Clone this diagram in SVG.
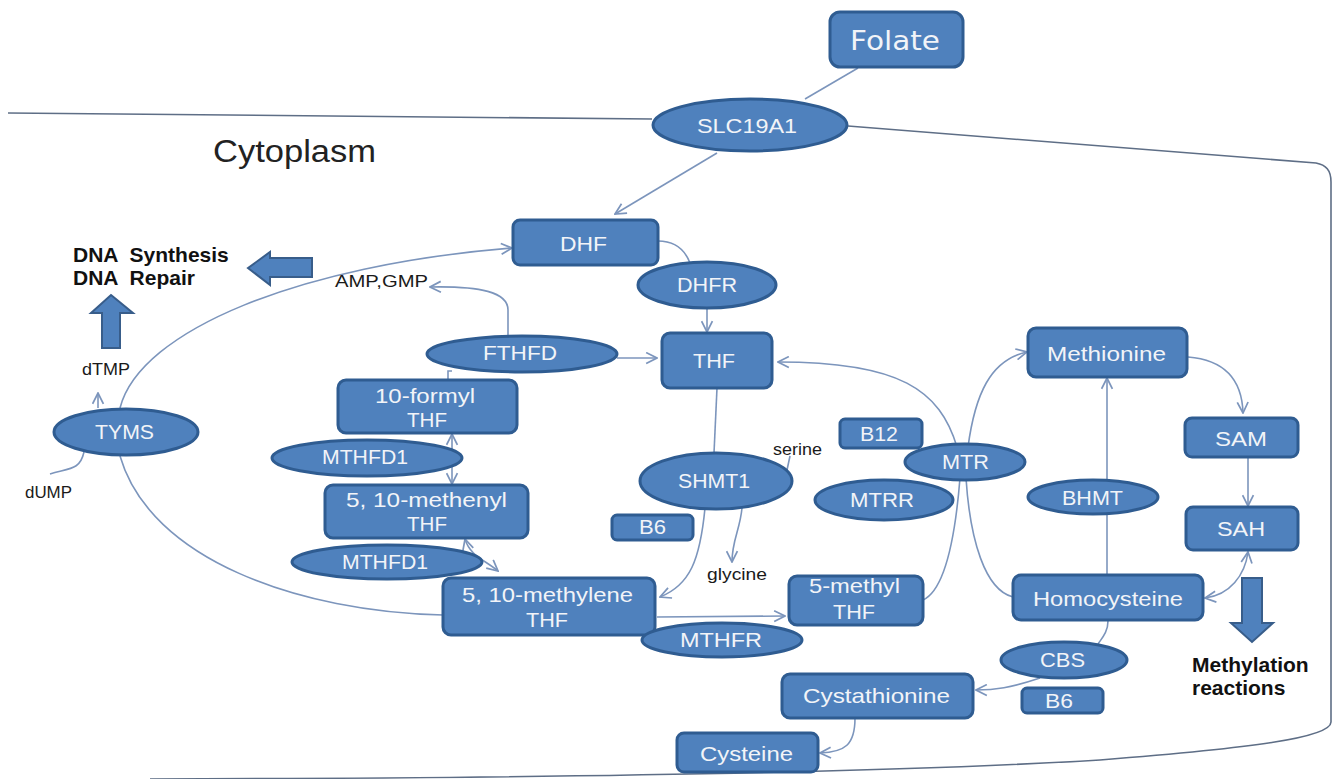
<svg xmlns="http://www.w3.org/2000/svg" width="1338" height="779" viewBox="0 0 1338 779">
<defs>
<style>
.n{fill:#4F81BD;stroke:#2F5C91;stroke-width:3}
.b{fill:#4F81BD;stroke:#385D8A;stroke-width:2}
.t{font-family:"Liberation Sans",Arial,sans-serif;font-size:21px;fill:#F2F4F8}
.s{font-family:"Liberation Sans",Arial,sans-serif;font-size:17px;fill:#1a1a1a}
.k{font-family:"Liberation Sans",Arial,sans-serif;font-size:21px;font-weight:bold;fill:#111}
.c{fill:none;stroke:#7C95BC;stroke-width:1.6}
.m{fill:none;stroke:#5E6E86;stroke-width:1.6}
</style>
<marker id="a" viewBox="0 0 12 12" refX="11" refY="6" markerWidth="13" markerHeight="13" markerUnits="userSpaceOnUse" orient="auto-start-reverse">
<path d="M1,1 L11,6 L1,11" fill="none" stroke="#7C95BC" stroke-width="1.6"/>
</marker>
</defs>
<rect width="1338" height="779" fill="#fff"/>

<g id="membrane">
<path class="m" d="M8,113 L652,119"/>
<path class="m" d="M848,126 L1316,163 C1326,165 1331,170 1331,182 L1331,722 C1331,738 1250,748 1100,760 C900,772 600,778 150,779"/>
</g>

<g id="connectors">
<path class="c" d="M858,68 L805,99"/>
<path class="c" d="M717,153 L615,214" marker-end="url(#a)"/>
<path class="c" d="M658,241 C675,241 685,250 690,263"/>
<path class="c" d="M707,308 L707,332" marker-end="url(#a)"/>
<path class="c" d="M617,358 L657,358" marker-end="url(#a)"/>
<path class="c" d="M508,337 L508,310 C508,292 480,286 430,287" marker-end="url(#a)"/>
<path class="c" d="M448,380 L448,371 L452,371"/>
<path class="c" d="M452,434 L452,484" marker-start="url(#a)" marker-end="url(#a)"/>
<path class="c" d="M465,539 C470,556 485,560 498,571" marker-start="url(#a)" marker-end="url(#a)"/>
<path class="c" d="M120,408 C140,330 300,265 512,248" marker-end="url(#a)"/>
<path class="c" d="M120,456 C150,560 300,612 443,615"/>
<path class="c" d="M98,408 L98,393" marker-end="url(#a)"/>
<path class="c" d="M50,474 C70,468 80,470 84,452"/>
<path class="c" d="M717,388 L714,453"/>
<path class="c" d="M790,456 L787,470"/>
<path class="c" d="M705,508 C700,560 690,585 660,597" marker-end="url(#a)"/>
<path class="c" d="M742,508 C740,530 732,540 732,562" marker-end="url(#a)"/>
<path class="c" d="M657,617 L785,616" marker-end="url(#a)"/>
<path class="c" d="M957,447 C940,390 900,362 778,362" marker-end="url(#a)"/>
<path class="c" d="M968,447 C975,395 990,360 1027,352" marker-end="url(#a)"/>
<path class="c" d="M960,478 C955,540 945,590 923,600"/>
<path class="c" d="M966,478 C970,540 985,590 1013,597"/>
<path class="c" d="M1107,575 L1107,378" marker-end="url(#a)"/>
<path class="c" d="M1188,357 C1225,360 1242,380 1243,413" marker-end="url(#a)"/>
<path class="c" d="M1248,457 L1248,506" marker-end="url(#a)"/>
<path class="c" d="M1248,552 C1245,575 1230,595 1205,598" marker-start="url(#a)" marker-end="url(#a)"/>
<path class="c" d="M1108,621 C1108,632 1102,638 1098,644"/>
<path class="c" d="M1040,678 C1010,688 995,690 976,690" marker-end="url(#a)"/>
<path class="c" d="M855,718 C855,745 845,752 820,753" marker-end="url(#a)"/>
</g>

<g id="block-arrows">
<polygon class="b" points="248,268 270,252 270,258 312,258 312,277 270,277 270,285"/>
<polygon class="b" points="111,295 133,313 120,313 120,348 102,348 102,313 91,313"/>
<polygon class="b" points="1242,578 1262,578 1262,623 1273,623 1252,642 1231,623 1242,623"/>
</g>

<g id="labels">
<text x="213" y="162" font-family="Liberation Sans, Arial, sans-serif" font-size="31" fill="#222" textLength="163" lengthAdjust="spacingAndGlyphs">Cytoplasm</text>
<text class="k" x="73" y="262">DNA <tspan dx="6">Synthesis</tspan></text>
<text class="k" x="73" y="285">DNA <tspan dx="6">Repair</tspan></text>
<text class="k" x="1192" y="672">Methylation</text>
<text class="k" x="1192" y="695">reactions</text>
<text class="s" x="335" y="287" textLength="93" lengthAdjust="spacingAndGlyphs">AMP,GMP</text>
<text class="s" x="82" y="375" textLength="48" lengthAdjust="spacingAndGlyphs">dTMP</text>
<text class="s" x="25" y="498" textLength="47" lengthAdjust="spacingAndGlyphs">dUMP</text>
<text class="s" x="773" y="455" textLength="49" lengthAdjust="spacingAndGlyphs">serine</text>
<text class="s" x="707" y="580" textLength="60" lengthAdjust="spacingAndGlyphs">glycine</text>
</g>

<g id="folate"><rect class="n" x="830" y="12" width="133" height="55" rx="10"/><text x="850" y="50" font-family="DejaVu Sans, Verdana, sans-serif" font-size="27" fill="#F2F4F8" textLength="90" lengthAdjust="spacingAndGlyphs">Folate</text></g>
<g id="slc19a1"><ellipse class="n" cx="750" cy="125" rx="97" ry="26"/><text class="t" x="697" y="133" textLength="100" lengthAdjust="spacingAndGlyphs">SLC19A1</text></g>
<g id="dhf"><rect class="n" x="513" y="220" width="145" height="45" rx="7"/><text class="t" x="560" y="251" textLength="47" lengthAdjust="spacingAndGlyphs">DHF</text></g>
<g id="dhfr"><ellipse class="n" cx="707" cy="285" rx="69" ry="23"/><text class="t" x="677" y="292" textLength="60" lengthAdjust="spacingAndGlyphs">DHFR</text></g>
<g id="thf"><rect class="n" x="662" y="333" width="110" height="55" rx="8"/><text class="t" x="693" y="368" textLength="42" lengthAdjust="spacingAndGlyphs">THF</text></g>
<g id="fthfd"><ellipse class="n" cx="522" cy="354" rx="95" ry="18"/><text class="t" x="483" y="360" textLength="74" lengthAdjust="spacingAndGlyphs">FTHFD</text></g>
<g id="formyl-thf"><rect class="n" x="338" y="380" width="179" height="53" rx="8"/><text class="t" x="375" y="403" textLength="100" lengthAdjust="spacingAndGlyphs">10-formyl</text><text class="t" x="407" y="427" textLength="40" lengthAdjust="spacingAndGlyphs">THF</text></g>
<g id="mthfd1-a"><ellipse class="n" cx="367" cy="458" rx="95" ry="18"/><text class="t" x="322" y="464" textLength="86" lengthAdjust="spacingAndGlyphs">MTHFD1</text></g>
<g id="methenyl-thf"><rect class="n" x="325" y="485" width="203" height="53" rx="8"/><text class="t" x="346" y="507" textLength="161" lengthAdjust="spacingAndGlyphs">5, 10-methenyl</text><text class="t" x="407" y="531" textLength="40" lengthAdjust="spacingAndGlyphs">THF</text></g>
<g id="mthfd1-b"><ellipse class="n" cx="387" cy="562" rx="95" ry="17"/><text class="t" x="342" y="569" textLength="86" lengthAdjust="spacingAndGlyphs">MTHFD1</text></g>
<g id="methylene-thf"><rect class="n" x="443" y="578" width="212" height="57" rx="8"/><text class="t" x="462" y="602" textLength="171" lengthAdjust="spacingAndGlyphs">5, 10-methylene</text><text class="t" x="526" y="627" textLength="42" lengthAdjust="spacingAndGlyphs">THF</text></g>
<g id="mthfr"><ellipse class="n" cx="722" cy="640" rx="80" ry="17"/><text class="t" x="680" y="647" textLength="82" lengthAdjust="spacingAndGlyphs">MTHFR</text></g>
<g id="methyl-thf"><rect class="n" x="789" y="576" width="134" height="49" rx="8"/><text class="t" x="809" y="593" textLength="91" lengthAdjust="spacingAndGlyphs">5-methyl</text><text class="t" x="833" y="619" textLength="42" lengthAdjust="spacingAndGlyphs">THF</text></g>
<g id="b6-a"><rect class="n" x="612" y="515" width="81" height="25" rx="5"/><text class="t" x="639" y="534" textLength="27" lengthAdjust="spacingAndGlyphs">B6</text></g>
<g id="shmt1"><ellipse class="n" cx="716" cy="481" rx="76" ry="28"/><text class="t" x="678" y="488" textLength="72" lengthAdjust="spacingAndGlyphs">SHMT1</text></g>
<g id="b12"><rect class="n" x="840" y="419" width="82" height="29" rx="5"/><text class="t" x="860" y="441" textLength="38" lengthAdjust="spacingAndGlyphs">B12</text></g>
<g id="mtr"><ellipse class="n" cx="965" cy="462" rx="60" ry="18"/><text class="t" x="942" y="469" textLength="47" lengthAdjust="spacingAndGlyphs">MTR</text></g>
<g id="mtrr"><ellipse class="n" cx="884" cy="500" rx="69" ry="20"/><text class="t" x="850" y="507" textLength="64" lengthAdjust="spacingAndGlyphs">MTRR</text></g>
<g id="methionine"><rect class="n" x="1028" y="328" width="159" height="49" rx="8"/><text class="t" x="1047" y="361" textLength="119" lengthAdjust="spacingAndGlyphs">Methionine</text></g>
<g id="bhmt"><ellipse class="n" cx="1093" cy="497" rx="65" ry="17"/><text class="t" x="1062" y="505" textLength="61" lengthAdjust="spacingAndGlyphs">BHMT</text></g>
<g id="sam"><rect class="n" x="1185" y="418" width="113" height="39" rx="7"/><text class="t" x="1215" y="446" textLength="52" lengthAdjust="spacingAndGlyphs">SAM</text></g>
<g id="sah"><rect class="n" x="1186" y="507" width="112" height="43" rx="7"/><text class="t" x="1217" y="536" textLength="48" lengthAdjust="spacingAndGlyphs">SAH</text></g>
<g id="homocysteine"><rect class="n" x="1013" y="575" width="190" height="45" rx="8"/><text class="t" x="1033" y="606" textLength="150" lengthAdjust="spacingAndGlyphs">Homocysteine</text></g>
<g id="cbs"><ellipse class="n" cx="1064" cy="660" rx="63" ry="18"/><text class="t" x="1040" y="667" textLength="45" lengthAdjust="spacingAndGlyphs">CBS</text></g>
<g id="b6-b"><rect class="n" x="1022" y="688" width="81" height="25" rx="5"/><text class="t" x="1045" y="708" textLength="28" lengthAdjust="spacingAndGlyphs">B6</text></g>
<g id="cystathionine"><rect class="n" x="782" y="674" width="191" height="44" rx="8"/><text class="t" x="803" y="703" textLength="147" lengthAdjust="spacingAndGlyphs">Cystathionine</text></g>
<g id="cysteine"><rect class="n" x="677" y="733" width="141" height="39" rx="7"/><text class="t" x="700" y="761" textLength="93" lengthAdjust="spacingAndGlyphs">Cysteine</text></g>
<g id="tyms"><ellipse class="n" cx="126" cy="432" rx="72" ry="23"/><text class="t" x="95" y="439" textLength="59" lengthAdjust="spacingAndGlyphs">TYMS</text></g>
</svg>
